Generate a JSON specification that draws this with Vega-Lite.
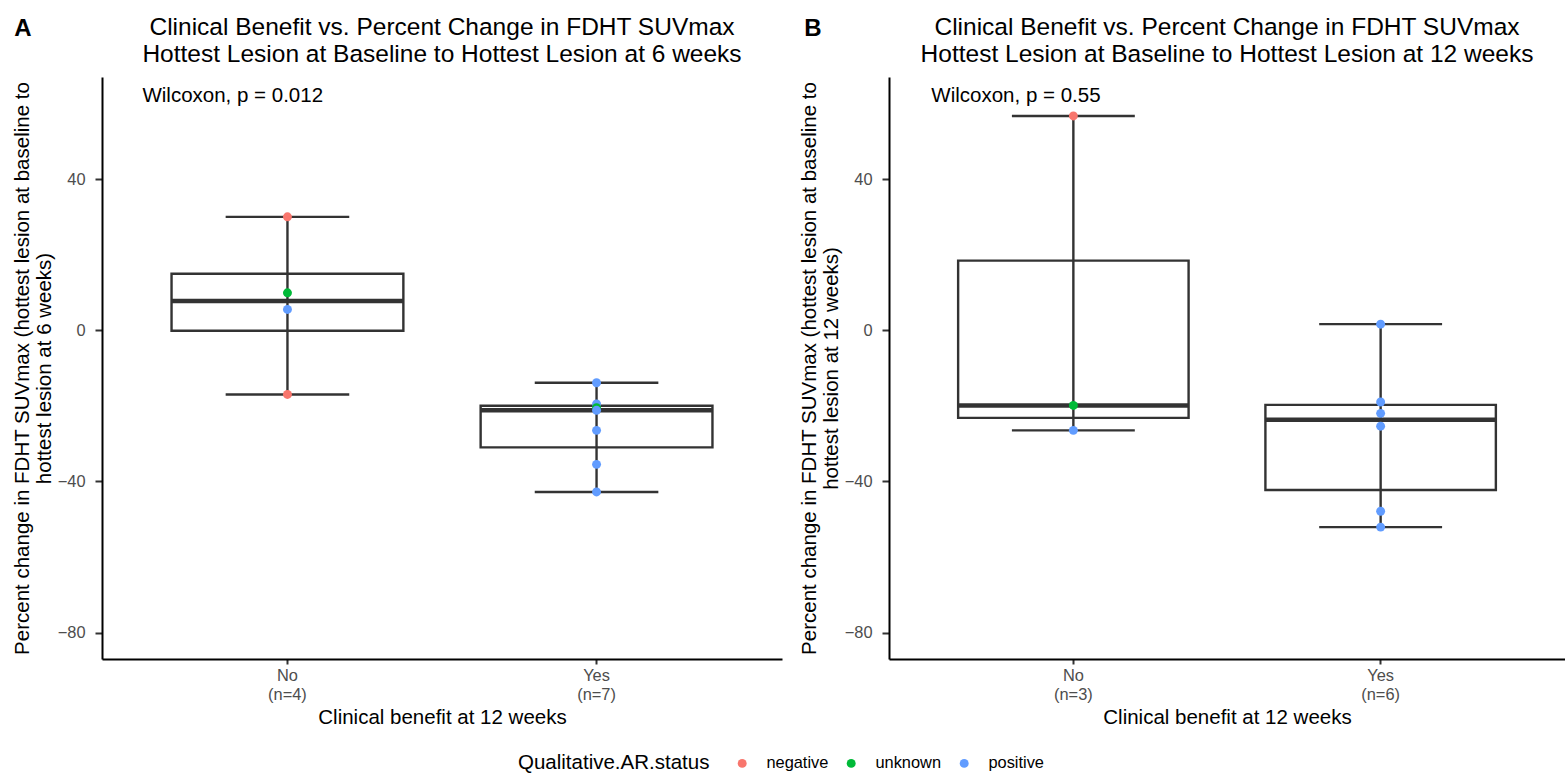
{
  "$schema": "https://vega.github.io/schema/vega-lite/v6.json",
  "background": "white",
  "padding": {"left": 12, "top": 14, "right": 0, "bottom": 4},
  "spacing": 17,
  "datasets": {
    "A": [
      {"group": "No (n=4)", "status": "negative", "value": 30.0},
      {"group": "No (n=4)", "status": "unknown", "value": 9.9},
      {"group": "No (n=4)", "status": "positive", "value": 5.5},
      {"group": "No (n=4)", "status": "negative", "value": -17.0},
      {"group": "Yes (n=7)", "status": "positive", "value": -13.9},
      {"group": "Yes (n=7)", "status": "positive", "value": -19.5},
      {"group": "Yes (n=7)", "status": "unknown", "value": -20.5},
      {"group": "Yes (n=7)", "status": "positive", "value": -21.2},
      {"group": "Yes (n=7)", "status": "positive", "value": -26.5},
      {"group": "Yes (n=7)", "status": "positive", "value": -35.5},
      {"group": "Yes (n=7)", "status": "positive", "value": -42.8}
    ],
    "B": [
      {"group": "No (n=3)", "status": "negative", "value": 56.7},
      {"group": "No (n=3)", "status": "unknown", "value": -19.9},
      {"group": "No (n=3)", "status": "positive", "value": -26.5},
      {"group": "Yes (n=6)", "status": "positive", "value": 1.6},
      {"group": "Yes (n=6)", "status": "positive", "value": -19.0},
      {"group": "Yes (n=6)", "status": "positive", "value": -22.0},
      {"group": "Yes (n=6)", "status": "positive", "value": -25.4},
      {"group": "Yes (n=6)", "status": "positive", "value": -47.9},
      {"group": "Yes (n=6)", "status": "positive", "value": -52.1}
    ]
  },
  "config": {
    "font": "Liberation Sans",
    "view": {"stroke": null},
    "axis": {
      "grid": false,
      "domainColor": "black",
      "domainWidth": 2,
      "tickColor": "#333333",
      "tickWidth": 2,
      "labelColor": "#4D4D4D",
      "labelFont": "Liberation Sans",
      "labelFontSize": 16.4,
      "titleFont": "Liberation Sans",
      "titleFontSize": 20.5,
      "titleFontWeight": "normal",
      "titleColor": "black"
    },
    "title": {"font": "Liberation Sans", "color": "black"},
    "legend": {
      "orient": "none",
      "legendX": 416,
      "legendY": 678,
      "direction": "horizontal",
      "titleOrient": "left",
      "titleLimit": 0,
      "titleFontSize": 20.5,
      "titleFontWeight": "normal",
      "titleColor": "black",
      "titleFont": "Liberation Sans",
      "labelFontSize": 16.4,
      "labelColor": "black",
      "labelFont": "Liberation Sans",
      "symbolType": "circle",
      "symbolSize": 80,
      "labelOffset": 16,
      "columnPadding": 14,
      "titlePadding": 24
    }
  },
  "hconcat": [
    {
      "title": {"text": "A", "anchor": "start", "frame": "bounds", "fontSize": 24, "fontWeight": "bold", "dy": 30, "dx": 2},
      "vconcat": [
        {
          "data": {"name": "A"},
          "title": {
            "text": ["Clinical Benefit vs. Percent Change in FDHT SUVmax", "Hottest Lesion at Baseline to Hottest Lesion at 6 weeks"],
            "fontSize": 24.5, "fontWeight": "normal", "lineHeight": 27, "anchor": "middle", "offset": 10
          },
          "width": 680,
          "height": 582,
          "encoding": {
            "x": {
              "field": "group", "type": "nominal",
              "scale": {"paddingInner": 0, "paddingOuter": 0.1},
              "axis": {"labelAngle": 0, "labelExpr": "split(datum.label, ' ')", "labelLineHeight": 19, "title": "Clinical benefit at 12 weeks", "tickSize": 5, "labelPadding": 3, "titlePadding": 5}
            }
          },
          "layer": [
            {
              "transform": [{"aggregate": [{"op": "min", "field": "value", "as": "wlo"}, {"op": "max", "field": "value", "as": "whi"}], "groupby": ["group"]}],
              "mark": {"type": "rule", "color": "#333333", "strokeWidth": 2.4},
              "encoding": {
                "y": {
                  "field": "wlo", "type": "quantitative",
                  "title": ["Percent change in FDHT SUVmax (hottest lesion at baseline to", "hottest lesion at 6 weeks)"],
                  "scale": {"domain": [-87, 67], "nice": false, "zero": false},
                  "axis": {"values": [-80, -40, 0, 40], "titleLineHeight": 22, "tickSize": 7, "labelPadding": 10, "titlePadding": 3}
                },
                "y2": {"field": "whi"}
              }
            },
            {
              "transform": [
                {"aggregate": [{"op": "min", "field": "value", "as": "clo"}, {"op": "max", "field": "value", "as": "chi"}], "groupby": ["group"]},
                {"fold": ["clo", "chi"], "as": ["end", "cap"]}
              ],
              "mark": {"type": "tick", "size": 123.6, "thickness": 2.4, "color": "#333333", "opacity": 1},
              "encoding": {
                "y": {"field": "cap", "type": "quantitative", "title": ["Percent change in FDHT SUVmax (hottest lesion at baseline to", "hottest lesion at 6 weeks)"]}
              }
            },
            {
              "transform": [{"aggregate": [{"op": "q1", "field": "value", "as": "bq1"}, {"op": "q3", "field": "value", "as": "bq3"}], "groupby": ["group"]}],
              "mark": {"type": "bar", "width": {"band": 0.75}, "fill": "white", "fillOpacity": 0, "stroke": "#333333", "strokeWidth": 2.4, "cornerRadius": 0},
              "encoding": {
                "y": {"field": "bq1", "type": "quantitative", "title": ["Percent change in FDHT SUVmax (hottest lesion at baseline to", "hottest lesion at 6 weeks)"]},
                "y2": {"field": "bq3"}
              }
            },
            {
              "transform": [{"aggregate": [{"op": "median", "field": "value", "as": "med"}], "groupby": ["group"]}],
              "mark": {"type": "tick", "size": 231.8, "thickness": 4.5, "color": "#333333", "opacity": 1},
              "encoding": {
                "y": {"field": "med", "type": "quantitative", "title": ["Percent change in FDHT SUVmax (hottest lesion at baseline to", "hottest lesion at 6 weeks)"]}
              }
            },
            {
              "mark": {"type": "circle", "size": 80, "opacity": 1},
              "encoding": {
                "y": {"field": "value", "type": "quantitative", "title": ["Percent change in FDHT SUVmax (hottest lesion at baseline to", "hottest lesion at 6 weeks)"]},
                "color": {
                  "field": "status", "type": "nominal",
                  "scale": {"domain": ["negative", "unknown", "positive"], "range": ["#F8766D", "#00BA38", "#619CFF"]},
                  "legend": {"title": "Qualitative.AR.status"}
                }
              }
            },
            {
              "data": {"values": [{"group": "No (n=4)", "value": 62, "text": "Wilcoxon, p = 0.012"}]},
              "mark": {"type": "text", "align": "left", "baseline": "middle", "dx": -145, "fontSize": 20.5, "color": "black"},
              "encoding": {
                "y": {"field": "value", "type": "quantitative", "title": ["Percent change in FDHT SUVmax (hottest lesion at baseline to", "hottest lesion at 6 weeks)"]},
                "text": {"field": "text"}
              }
            }
          ]
        }
      ]
    },
    {
      "title": {"text": "B", "anchor": "start", "frame": "bounds", "fontSize": 24, "fontWeight": "bold", "dy": 30, "dx": 5},
      "vconcat": [
        {
          "data": {"name": "B"},
          "title": {
            "text": ["Clinical Benefit vs. Percent Change in FDHT SUVmax", "Hottest Lesion at Baseline to Hottest Lesion at 12 weeks"],
            "fontSize": 24.5, "fontWeight": "normal", "lineHeight": 27, "anchor": "middle", "offset": 10
          },
          "width": 676,
          "height": 582,
          "encoding": {
            "x": {
              "field": "group", "type": "nominal",
              "scale": {"paddingInner": 0, "paddingOuter": 0.1},
              "axis": {"labelAngle": 0, "labelExpr": "split(datum.label, ' ')", "labelLineHeight": 19, "title": "Clinical benefit at 12 weeks", "tickSize": 5, "labelPadding": 3, "titlePadding": 5}
            }
          },
          "layer": [
            {
              "transform": [{"aggregate": [{"op": "min", "field": "value", "as": "wlo"}, {"op": "max", "field": "value", "as": "whi"}], "groupby": ["group"]}],
              "mark": {"type": "rule", "color": "#333333", "strokeWidth": 2.4},
              "encoding": {
                "y": {
                  "field": "wlo", "type": "quantitative",
                  "title": ["Percent change in FDHT SUVmax (hottest lesion at baseline to", "hottest lesion at 12 weeks)"],
                  "scale": {"domain": [-87, 67], "nice": false, "zero": false},
                  "axis": {"values": [-80, -40, 0, 40], "titleLineHeight": 22, "tickSize": 7, "labelPadding": 10, "titlePadding": 3}
                },
                "y2": {"field": "whi"}
              }
            },
            {
              "transform": [
                {"aggregate": [{"op": "min", "field": "value", "as": "clo"}, {"op": "max", "field": "value", "as": "chi"}], "groupby": ["group"]},
                {"fold": ["clo", "chi"], "as": ["end", "cap"]}
              ],
              "mark": {"type": "tick", "size": 122.9, "thickness": 2.4, "color": "#333333", "opacity": 1},
              "encoding": {
                "y": {"field": "cap", "type": "quantitative", "title": ["Percent change in FDHT SUVmax (hottest lesion at baseline to", "hottest lesion at 12 weeks)"]}
              }
            },
            {
              "transform": [{"aggregate": [{"op": "q1", "field": "value", "as": "bq1"}, {"op": "q3", "field": "value", "as": "bq3"}], "groupby": ["group"]}],
              "mark": {"type": "bar", "width": {"band": 0.75}, "fill": "white", "fillOpacity": 0, "stroke": "#333333", "strokeWidth": 2.4, "cornerRadius": 0},
              "encoding": {
                "y": {"field": "bq1", "type": "quantitative", "title": ["Percent change in FDHT SUVmax (hottest lesion at baseline to", "hottest lesion at 12 weeks)"]},
                "y2": {"field": "bq3"}
              }
            },
            {
              "transform": [{"aggregate": [{"op": "median", "field": "value", "as": "med"}], "groupby": ["group"]}],
              "mark": {"type": "tick", "size": 230.5, "thickness": 4.5, "color": "#333333", "opacity": 1},
              "encoding": {
                "y": {"field": "med", "type": "quantitative", "title": ["Percent change in FDHT SUVmax (hottest lesion at baseline to", "hottest lesion at 12 weeks)"]}
              }
            },
            {
              "mark": {"type": "circle", "size": 80, "opacity": 1},
              "encoding": {
                "y": {"field": "value", "type": "quantitative", "title": ["Percent change in FDHT SUVmax (hottest lesion at baseline to", "hottest lesion at 12 weeks)"]},
                "color": {
                  "field": "status", "type": "nominal",
                  "scale": {"domain": ["negative", "unknown", "positive"], "range": ["#F8766D", "#00BA38", "#619CFF"]},
                  "legend": {"title": "Qualitative.AR.status"}
                }
              }
            },
            {
              "data": {"values": [{"group": "No (n=3)", "value": 62, "text": "Wilcoxon, p = 0.55"}]},
              "mark": {"type": "text", "align": "left", "baseline": "middle", "dx": -142, "fontSize": 20.5, "color": "black"},
              "encoding": {
                "y": {"field": "value", "type": "quantitative", "title": ["Percent change in FDHT SUVmax (hottest lesion at baseline to", "hottest lesion at 12 weeks)"]},
                "text": {"field": "text"}
              }
            }
          ]
        }
      ]
    }
  ]
}
